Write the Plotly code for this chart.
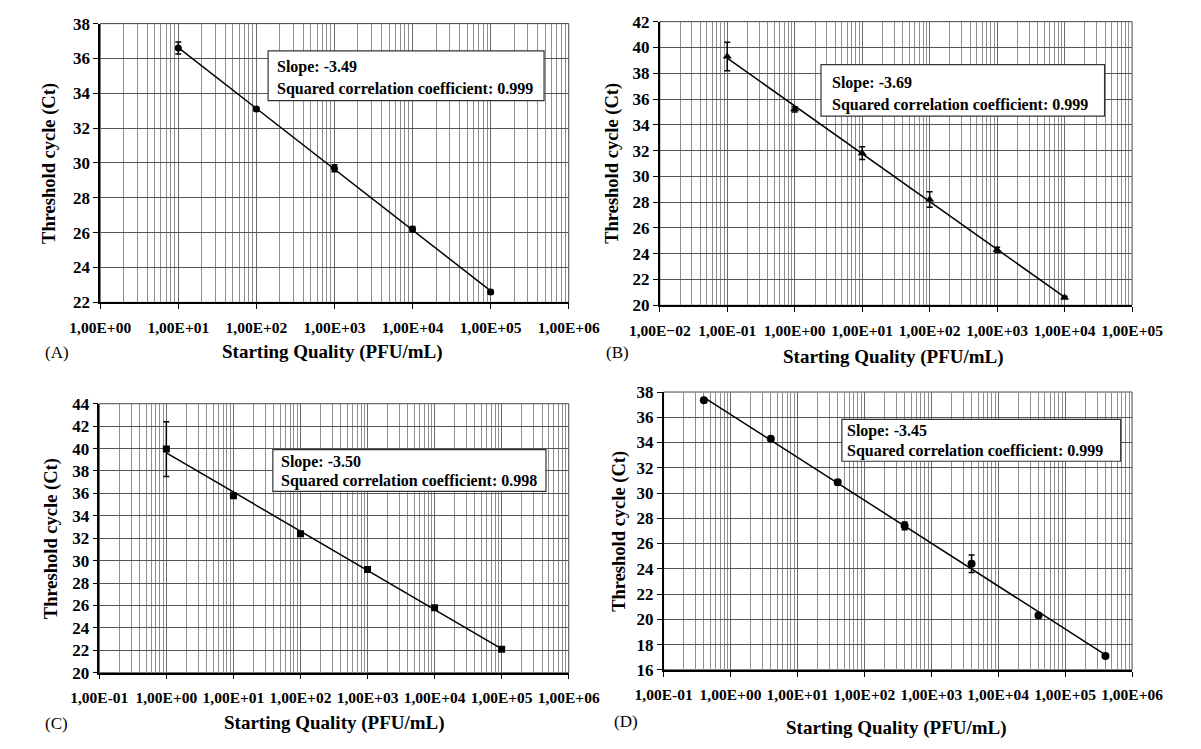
import numpy as np
import plotly.graph_objects as go

W, H = 1201, 749
FONT = "Liberation Serif"

# ---------------- data ----------------
# Panel A
a_conc = [1e1, 1e2, 1e3, 1e4, 1e5]
a_ct = [36.6, 33.1, 29.7, 26.2, 22.6]
a_err = [0.35, 0.1, 0.2, 0.15, 0.1]
a_xexp = [0, 1, 2, 3, 4, 5, 6]
a_xlabels = ["1,00E+00", "1,00E+01", "1,00E+02", "1,00E+03", "1,00E+04", "1,00E+05", "1,00E+06"]
a_yrange = [22, 38]
a_text = ["Slope: -3.49", "Squared correlation coefficient: 0.999"]

# Panel B
b_conc = [1e-1, 1e0, 1e1, 1e2, 1e3, 1e4]
b_ct = [39.3, 35.2, 31.8, 28.2, 24.3, 20.6]
b_err = [1.1, 0.2, 0.5, 0.6, 0.2, 0.1]
b_xexp = [-2, -1, 0, 1, 2, 3, 4, 5]
b_xlabels = ["1,00E\u221202", "1,00E-01", "1,00E+00", "1,00E+01", "1,00E+02", "1,00E+03", "1,00E+04", "1,00E+05"]
b_yrange = [20, 42]
b_text = ["Slope: -3.69", "Squared correlation coefficient: 0.999"]

# Panel C
c_conc = [1e0, 1e1, 1e2, 1e3, 1e4, 1e5]
c_ct = [39.95, 35.8, 32.4, 29.2, 25.8, 22.1]
c_err = [2.45, 0.2, 0.15, 0.15, 0.15, 0.15]
c_xexp = [-1, 0, 1, 2, 3, 4, 5, 6]
c_xlabels = ["1,00E-01", "1,00E+00", "1,00E+01", "1,00E+02", "1,00E+03", "1,00E+04", "1,00E+05", "1,00E+06"]
c_yrange = [20, 44]
c_text = ["Slope: -3.50", "Squared correlation coefficient: 0.998"]

# Panel D
d_conc = [4e-1, 4e0, 4e1, 4e2, 4e3, 4e4, 4e5]
d_ct = [37.35, 34.3, 30.85, 27.4, 24.4, 20.3, 17.1]
d_err = [0.1, 0.1, 0.2, 0.3, 0.7, 0.15, 0.1]
d_xexp = [-1, 0, 1, 2, 3, 4, 5, 6]
d_xlabels = ["1,00E-01", "1,00E+00", "1,00E+01", "1,00E+02", "1,00E+03", "1,00E+04", "1,00E+05", "1,00E+06"]
d_yrange = [16, 38]
d_text = ["Slope: -3.45", "Squared correlation coefficient: 0.999"]

x_title = "Starting Quality (PFU/mL)"
y_title = "Threshold cycle (Ct)"

# ---------------- layout geometry (pixels) ----------------
panels = [
    dict(conc=a_conc, ct=a_ct, err=a_err, xexp=a_xexp, xl=a_xlabels, yr=a_yrange, txt=a_text,
         letter="(A)", sym="circle", msize=7,
         box=(73, 567, 15, 301), note=(250, 541, 43, 94, 257, 60, 82),
         xt_y=352, xt_x=318, let_x=13, let_y=352, yt_x=20),
    dict(conc=b_conc, ct=b_ct, err=b_err, xexp=b_xexp, xl=b_xlabels, yr=b_yrange, txt=b_text,
         letter="(B)", sym="triangle-up", msize=8,
         box=(663, 1161, 13, 304), note=(833, 1132, 57, 110, 842, 76, 98),
         xt_y=357, xt_x=909, let_x=604, let_y=352, yt_x=613),
    dict(conc=c_conc, ct=c_ct, err=c_err, xexp=c_xexp, xl=c_xlabels, yr=c_yrange, txt=c_text,
         letter="(C)", sym="square", msize=7,
         box=(72, 567, 405, 681), note=(255, 543, 452, 495, 261, 465, 484),
         xt_y=733, xt_x=320, let_x=13, let_y=733, yt_x=21),
    dict(conc=d_conc, ct=d_ct, err=d_err, xexp=d_xexp, xl=d_xlabels, yr=d_yrange, txt=d_text,
         letter="(D)", sym="circle", msize=8,
         box=(667, 1161, 393, 678), note=(855, 1149, 421, 464, 858, 433, 453),
         xt_y=738, xt_x=913, let_x=613, let_y=731, yt_x=621),
]


def px(x):
    return x / W


def py(y):
    return 1 - y / H


fig = go.Figure()
annotations = []
shapes = []
layout = {}

for i, p in enumerate(panels, start=1):
    sfx = "" if i == 1 else str(i)
    xa, ya = "x" + sfx, "y" + sfx
    l, r, t, b = p["box"]

    xlog = np.log10(p["conc"])
    slope, icpt = np.polyfit(xlog, p["ct"], 1)
    fit_x = [p["conc"][0], p["conc"][-1]]
    fit_y = [icpt + slope * np.log10(v) for v in fit_x]

    fig.add_trace(go.Scatter(x=fit_x, y=fit_y, mode="lines",
                             line=dict(color="black", width=1.5),
                             xaxis=xa, yaxis=ya, showlegend=False, hoverinfo="skip"))
    fig.add_trace(go.Scatter(x=p["conc"], y=p["ct"], mode="markers",
                             marker=dict(symbol=p["sym"], size=p["msize"], color="black"),
                             error_y=dict(type="data", array=p["err"], visible=True,
                                          color="black", thickness=1.5, width=3),
                             xaxis=xa, yaxis=ya, showlegend=False))

    lo, hi = p["xexp"][0], p["xexp"][-1]
    minor_vals = [m * 10.0 ** d for d in range(lo, hi) for m in range(2, 10)]
    layout["xaxis" + sfx] = dict(
        type="log", range=[lo, hi], domain=[px(l), px(r)], anchor=ya,
        tickmode="array", tickvals=[10.0 ** e for e in p["xexp"]], ticktext=p["xl"],
        ticks="outside", ticklen=5, tickcolor="black", tickwidth=1,
        showline=True, linecolor="black", linewidth=1.5,
        showgrid=True, gridcolor="#6a6a6a", gridwidth=1,
        minor=dict(tickmode="array", tickvals=minor_vals, showgrid=True,
                   gridcolor="#8f8f8f", gridwidth=1, ticks=""),
        tickfont=dict(family=FONT, size=15.5, color="black", weight="bold"),
        ticklabelstandoff=5, zeroline=False, fixedrange=True,
    )
    layout["yaxis" + sfx] = dict(
        range=p["yr"], domain=[py(b), py(t)], anchor=xa,
        tickmode="linear", tick0=p["yr"][0], dtick=2,
        ticks="outside", ticklen=5, tickcolor="black", tickwidth=1,
        showline=True, linecolor="black", linewidth=1.5,
        showgrid=True, gridcolor="#555555", gridwidth=1,
        tickfont=dict(family=FONT, size=17, color="black", weight="bold"),
        zeroline=False, fixedrange=True,
    )

    # frame (top/right edges)
    shapes.append(dict(type="rect", xref="paper", yref="paper",
                       x0=px(l), x1=px(r), y0=py(b), y1=py(t),
                       line=dict(color="#444444", width=1), layer="below"))

    # note box
    nl, nr, nt, nb, tx, ty1, ty2 = p["note"]
    shapes.append(dict(type="rect", xref="paper", yref="paper",
                       x0=px(nl), x1=px(nr), y0=py(nb), y1=py(nt),
                       line=dict(color="#333333", width=1.2), fillcolor="white", layer="above"))
    for txt, ty in zip(p["txt"], (ty1, ty2)):
        annotations.append(dict(text=txt, xref="paper", yref="paper", x=px(tx), y=py(ty),
                                xanchor="left", yanchor="middle", showarrow=False,
                                font=dict(family=FONT, size=16, color="black", weight="bold")))

    # axis titles and panel letter
    annotations.append(dict(text=x_title, xref="paper", yref="paper",
                            x=px(p["xt_x"]), y=py(p["xt_y"]), xanchor="center", yanchor="middle",
                            showarrow=False,
                            font=dict(family=FONT, size=19, color="black", weight="bold")))
    annotations.append(dict(text=y_title, xref="paper", yref="paper",
                            x=px(p["yt_x"]), y=py((t + b) / 2), xanchor="center", yanchor="middle",
                            textangle=-90, showarrow=False,
                            font=dict(family=FONT, size=18.5, color="black", weight="bold")))
    annotations.append(dict(text=p["letter"], xref="paper", yref="paper",
                            x=px(p["let_x"]), y=py(p["let_y"]), xanchor="left", yanchor="middle",
                            showarrow=False,
                            font=dict(family=FONT, size=17, color="black")))

fig.update_layout(
    width=W, height=H, margin=dict(l=0, r=0, t=0, b=0),
    paper_bgcolor="white", plot_bgcolor="white",
    annotations=annotations, shapes=shapes, showlegend=False,
    **layout,
)

fig.write_html("out.html", config={"displayModeBar": False},
               post_script="document.body.style.margin='0';")
